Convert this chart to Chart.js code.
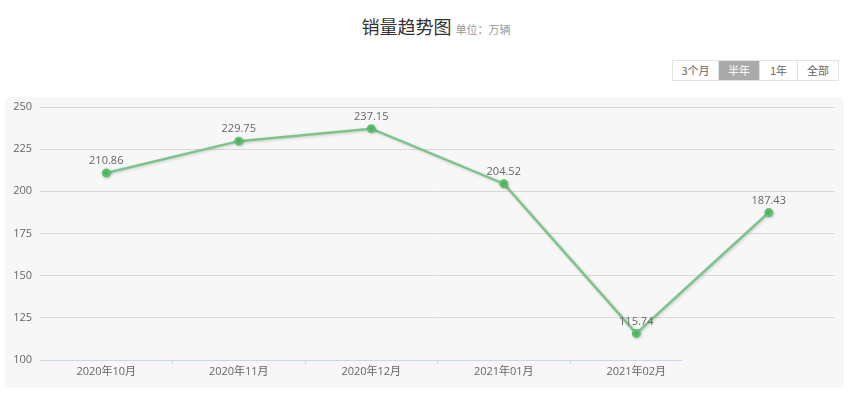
<!DOCTYPE html>
<html>
<head>
<meta charset="utf-8">
<script src="https://cdn.jsdelivr.net/npm/chart.js@4/dist/chart.umd.min.js"></script>
<style>
  html, body { margin:0; padding:0; background:#fff; width:852px; height:399px; overflow:hidden; font-family:"Open Sans","Noto Sans CJK SC",sans-serif; }
  #title { position:absolute; left:10px; top:13px; width:852px; text-align:center; color:#333; }
  #title .main { font-size:18px; font-family:"Noto Sans CJK SC",sans-serif; }
  #title .unit { font-size:11px; color:#999; font-family:"Noto Sans CJK SC",sans-serif; margin-left:4px; }
  #btns { position:absolute; left:672px; top:60px; height:19px; display:flex; border:1px solid #e3e3e3; background:#fff; }
  #btns div { font-size:11px; color:#666; line-height:19px; text-align:center; border-left:1px solid #e3e3e3; font-family:"Noto Sans CJK SC",sans-serif; }
  #btns div:first-child { border-left:none; }
  #btns div.sel { background:#aaa; color:#fff; }
  #panel { position:absolute; left:5px; top:97px; width:839px; height:291px; background:#f7f7f7; border-radius:6px; }
  #c { position:absolute; left:0; top:0; }
</style>
</head>
<body>
<div id="title"><span class="main">销量趋势图</span><span class="unit">单位：万辆</span></div>
<div id="btns"><div style="width:45px">3个月</div><div class="sel" style="width:40px">半年</div><div style="width:37px">1年</div><div style="width:40px">全部</div></div>
<div id="panel"></div>
<canvas id="c" width="852" height="399"></canvas>
<script>
const categories = ["2020年10月","2020年11月","2020年12月","2021年01月","2021年02月",""];
const sales = [210.86, 229.75, 237.15, 204.52, 115.74, 187.43];
const yTicks = [100, 125, 150, 175, 200, 225, 250];

const labelPlugin = {
  id: 'valLabels',
  afterDatasetsDraw(chart) {
    const ctx = chart.ctx;
    const meta = chart.getDatasetMeta(0);
    ctx.save();
    ctx.font = '11px "Open Sans", sans-serif';
    ctx.fillStyle = '#666';
    ctx.textAlign = 'center';
    ctx.textBaseline = 'middle';
    meta.data.forEach((p, i) => {
      ctx.fillText(sales[i].toFixed(2), p.x, p.y - 12);
    });
    ctx.restore();
  }
};
const axisLinePlugin = {
  id: 'axisLine',
  beforeDatasetsDraw(chart) {
    const x = chart.scales.x, y = chart.scales.y;
    const ctx = chart.ctx;
    const p4 = x.getPixelForValue(4), p5 = x.getPixelForValue(5);
    const yy = y.getPixelForValue(yTicks[0]);
    ctx.save();
    ctx.strokeStyle = '#ccd6eb';
    ctx.lineWidth = 1;
    ctx.beginPath();
    ctx.moveTo(chart.chartArea.left, yy + 0.5);
    ctx.lineTo(p4 + (p5 - p4) * 0.35, yy + 0.5);
    ctx.stroke();
    ctx.restore();
  }
};
const shadowPlugin = {
  id: 'shadow',
  beforeDatasetDraw(chart) {
    const ctx = chart.ctx;
    ctx.save();
    ctx.shadowColor = 'rgba(0,0,0,0.18)';
    ctx.shadowBlur = 3;
    ctx.shadowOffsetX = 1;
    ctx.shadowOffsetY = 1;
  },
  afterDatasetDraw(chart) { chart.ctx.restore(); }
};

new Chart(document.getElementById('c'), {
  type: 'line',
  data: {
    labels: categories,
    datasets: [{
      data: sales,
      borderColor: '#7cc48a',
      borderWidth: 2.5,
      pointBackgroundColor: '#5cbf6c',
      pointBorderColor: '#5cbf6c',
      pointRadius: 3.2,
      tension: 0,
      fill: false
    }]
  },
  options: {
    responsive: false,
    animation: false,
    events: [],
    layout: { padding: { left: 0, right: 17, top: 107, bottom: 0 } },
    plugins: { legend: { display: false }, tooltip: { enabled: false }, title: { display: false } },
    scales: {
      x: {
        offset: true,
        border: { display: false },
        grid: {
          offset: true,
          drawOnChartArea: false,
          drawTicks: true,
          tickLength: 4,
          color: (c) => (c.index >= 1 && c.index <= 4) ? '#ccd6eb' : 'rgba(0,0,0,0)'
        },
        ticks: { color: '#666', font: { size: 11, family: '"Open Sans","Noto Sans CJK SC"' }, padding: 1, maxRotation: 0, autoSkip: false },
        afterFit: (s) => { s.height = 39; }
      },
      y: {
        min: yTicks[0],
        max: yTicks[yTicks.length - 1],
        border: { display: false },
        afterBuildTicks: (s) => { s.ticks = yTicks.map(v => ({ value: v })); },
        grid: {
          drawTicks: false,
          color: (c) => c.tick && c.tick.value === yTicks[0] ? 'rgba(0,0,0,0)' : '#d9d9d9'
        },
        ticks: { color: '#666', font: { size: 11, family: '"Open Sans"' }, padding: 8 },
        afterFit: (s) => { s.width = 40; }
      }
    }
  },
  plugins: [axisLinePlugin, shadowPlugin, labelPlugin]
});
</script>
</body>
</html>
